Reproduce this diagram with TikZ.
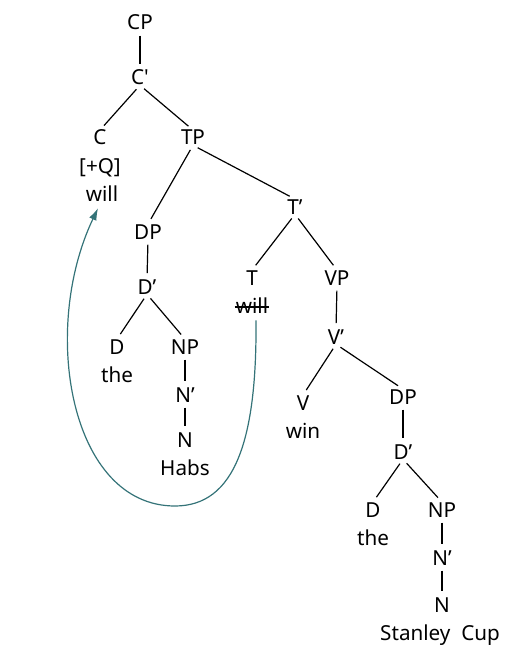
\documentclass[tikz,border=0pt]{standalone}
\usepackage{fontspec}
\setmainfont{Noto Sans}
\usetikzlibrary{arrows.meta,calc}
\definecolor{movecol}{RGB}{52,115,120}

\begin{document}
\begin{tikzpicture}[x=0.75pt,y=0.75pt,yscale=-1,
  lab/.style={anchor=base,inner sep=0pt,text height=11pt,text depth=0pt,font=\fontsize{15.5}{18}\selectfont},
  branch/.style={line width=0.9pt,shorten <=4pt,shorten >=4.5pt},
  movearrow/.style={line width=0.9pt,color=movecol,-{Latex[length=9pt,width=6pt]}}]
\useasboundingbox (0,0) rectangle (516,649);

% Text Node: CP layer
\node[lab] (CP) at (140,30) {CP};
\node[lab] (Cbar) at (140,85) {C\textquotesingle};
\node[lab] (C) at (100,145) {C};
\node[lab] (TP) at (193,145) {TP};
\node[lab] (Cq) at (100,173) {[+Q]};
\node[lab] (Cwill) at (102,201) {will};

% Text Node: subject DP
\node[lab] (DP) at (148,239) {DP};
\node[lab] (Dbar) at (147,294) {D’};
\node[lab] (D) at (117,354) {D};
\node[lab] (Dthe) at (117,382) {the};
\node[lab] (NP) at (185,354) {NP};
\node[lab] (Nbar) at (185,402) {N’};
\node[lab] (N) at (185,447) {N};
\node[lab] (Habs) at (185,475) {Habs};

% Text Node: T and VP
\node[lab] (Tbar) at (295,214) {T’};
\node[lab] (T) at (252,285) {T};
\node[lab] (Twill) at (252,313) {will};
\node[lab] (VP) at (337,285) {VP};
\node[lab] (Vbar) at (336,344) {V’};
\node[lab] (V) at (303,410) {V};
\node[lab] (Vwin) at (303,438) {win};

% Text Node: object DP
\node[lab] (DPo) at (403,404) {DP};
\node[lab] (Dbaro) at (403,459) {D’};
\node[lab] (Do) at (373,517) {D};
\node[lab] (Dtheo) at (373,545) {the};
\node[lab] (NPo) at (442,517) {NP};
\node[lab] (Nbaro) at (442,565) {N’};
\node[lab] (No) at (442,612) {N};
\node[lab] (Cup) at (440,640) {Stanley~~Cup};

%Straight Lines
\draw[branch] (CP.south) -- (Cbar.north);
\draw[branch] (Cbar.south) -- (C.north);
\draw[branch] (Cbar.south) -- (TP.north);
\draw[branch] (TP.south) -- (DP.north);
\draw[branch] (TP.south) -- (Tbar.north);
\draw[branch] (DP.south) -- (Dbar.north);
\draw[branch] (Dbar.south) -- (D.north);
\draw[branch] (Dbar.south) -- (NP.north);
\draw[branch] (NP.south) -- (Nbar.north);
\draw[branch] (Nbar.south) -- (N.north);
\draw[branch] (Tbar.south) -- (T.north);
\draw[branch] (Tbar.south) -- (VP.north);
\draw[branch] (VP.south) -- (Vbar.north);
\draw[branch] (Vbar.south) -- (V.north);
\draw[branch] (Vbar.south) -- (DPo.north);
\draw[branch] (DPo.south) -- (Dbaro.north);
\draw[branch] (Dbaro.south) -- (Do.north);
\draw[branch] (Dbaro.south) -- (NPo.north);
\draw[branch] (NPo.south) -- (Nbaro.north);
\draw[branch] (Nbaro.south) -- (No.north);

% strike through the lower copy of will
\draw[line width=0.8pt] ($(Twill.base west)+(-1,-6)$) -- ($(Twill.base east)+(1,-6)$);

%Curve Lines: T to C movement
\draw[movearrow] ($(Twill.south)+(4,7)$) .. controls (257,440) and (235,506) .. (175,506) .. controls (70,506) and (40,330) .. ($(Cwill.south)+(-4,7)$);

\end{tikzpicture}
\end{document}
